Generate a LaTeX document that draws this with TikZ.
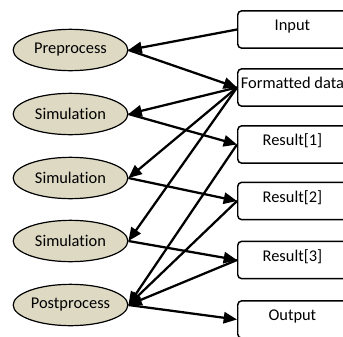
\documentclass[tikz,border=0pt]{standalone}
\usepackage{fontspec}
\setmainfont{Carlito}[Ligatures=NoCommon]
\usetikzlibrary{shapes.geometric,arrows.meta}
\definecolor{tan}{RGB}{221,217,195}
\begin{document}
\begin{tikzpicture}[x=0.75pt,y=-0.75pt,
  proc/.style={ellipse,draw=black,line width=0.9pt,fill=tan,minimum width=86pt,minimum height=31pt,inner sep=0pt,font=\fontsize{12.3pt}{14pt}\selectfont},
  databox/.style={rectangle,rounded corners=3pt,draw=black,line width=1.1pt,fill=white,minimum width=82pt,minimum height=28pt,inner sep=0pt,text height=7pt,text depth=5pt,anchor=west,font=\fontsize{12.3pt}{14pt}\selectfont},
  flow/.style={line width=1.7pt,-{Triangle[length=10pt,width=8.5pt]}}]
\useasboundingbox (0,0) rectangle (343,336);
\clip (0,0) rectangle (343,336);
\node[proc] (pre)  at (70.5,50)  {Preprocess};
\node[proc] (sim1) at (70.5,114) {Simulation};
\node[proc] (sim2) at (70.5,178) {Simulation};
\node[proc] (sim3) at (70.5,241) {Simulation};
\node[proc] (post) at (70.5,305) {Postprocess};
\node[databox] (in)  at (237,29.5)  {Input};
\node[databox] (fd)  at (237,87.5)  {Formatted data};
\node[databox] (r1)  at (237,144.5) {Result[1]};
\node[databox] (r2)  at (237,201)   {Result[2]};
\node[databox] (r3)  at (237,260)   {Result[3]};
\node[databox] (out) at (237,319.5) {Output};
\draw[flow] (in.west) -- (pre.east);
\draw[flow] (pre.east) -- (fd.west);
\draw[flow] (fd.west) -- (sim1.east);
\draw[flow] (fd.west) -- (sim2.east);
\draw[flow] (fd.west) -- (sim3.east);
\draw[flow] (sim1.east) -- (r1.west);
\draw[flow] (sim2.east) -- (r2.west);
\draw[flow] (sim3.east) -- (r3.west);
\draw[flow] (r1.west) -- (post.east);
\draw[flow] (r2.west) -- (post.east);
\draw[flow] (r3.west) -- (post.east);
\draw[flow] (post.east) -- (out.west);
\end{tikzpicture}
\end{document}
